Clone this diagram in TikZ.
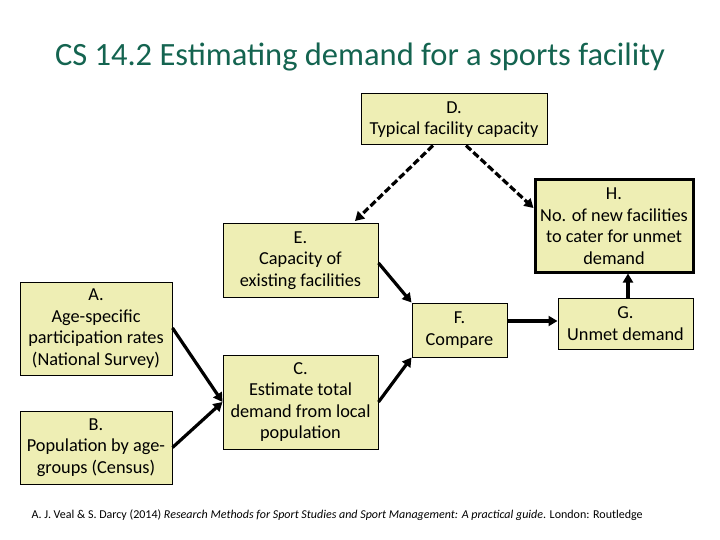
\documentclass[tikz,border=0pt]{standalone}
\usepackage{fontspec}
\setmainfont{Carlito}
\usetikzlibrary{arrows.meta}
\definecolor{boxfill}{RGB}{238,238,180}
\definecolor{titlecol}{RGB}{20,100,80}
\begin{document}
\begin{tikzpicture}[x=1pt,y=-1pt,
  box/.style={draw=black,fill=boxfill,line width=1pt,align=center,font=\fontsize{18.3}{21.5}\selectfont,inner sep=0pt},
  arr/.style={line width=3.2pt,-{Triangle[length=9pt,width=10pt]}},
  darr/.style={arr,dash pattern=on 7pt off 3pt}]
\useasboundingbox (0,0) rectangle (720,540);
\node[font=\fontsize{32.5}{36}\selectfont,text=titlecol] (t) at (360,57) {CS 14.2 Estimating demand for a sports facility};
\node[box,minimum width=186pt,minimum height=51pt] (D) at (454,119.5) {D.\\Typical facility capacity};
\node[box,line width=3pt,minimum width=158pt,minimum height=92pt] (H) at (614,226) {H.\\No. of new facilities\\to cater for unmet\\demand};
\node[box,minimum width=155pt,minimum height=73pt] (E) at (300.5,260.5) {E.\\Capacity of\\existing facilities};
\node[box,minimum width=152pt,minimum height=93pt] (A) at (96,328.5) {A.\\Age-specific\\participation rates\\(National Survey)};
\node[box,minimum width=152pt,minimum height=73pt] (B) at (96,447.5) {B.\\Population by age-\\groups (Census)};
\node[box,minimum width=155pt,minimum height=94pt] (C) at (300.5,402) {C.\\Estimate total\\demand from local\\population};
\node[box,minimum width=95pt,minimum height=54pt] (F) at (459.5,330) {F.\\Compare};
\node[box,minimum width=135pt,minimum height=51pt] (G) at (625.5,323.5) {G.\\Unmet demand};
\draw[arr] (A.east |- 0,328) -- (C.west |- 0,402);
\draw[arr] (B.east) -- (C.west |- 0,402);
\draw[arr] (E.east |- 0,263) -- (F.north west);
\draw[arr] (C.east) -- (F.south west);
\draw[arr] (F.east |- 0,321) -- (G.west |- 0,321);
\draw[arr] (G.north -| 628,0) -- (H.south -| 628,0);
\draw[darr] (D.south -| 433,0) -- (355,221);
\draw[darr] (D.south -| 466,0) -- (H.west |- 0,208);
\node[font=\fontsize{12}{14}\selectfont,anchor=west] (cit) at (28,515) {A. J. Veal \& S. Darcy (2014) \textit{Research Methods for Sport Studies and Sport Management: A practical guide}. London: Routledge};
\end{tikzpicture}
\end{document}
